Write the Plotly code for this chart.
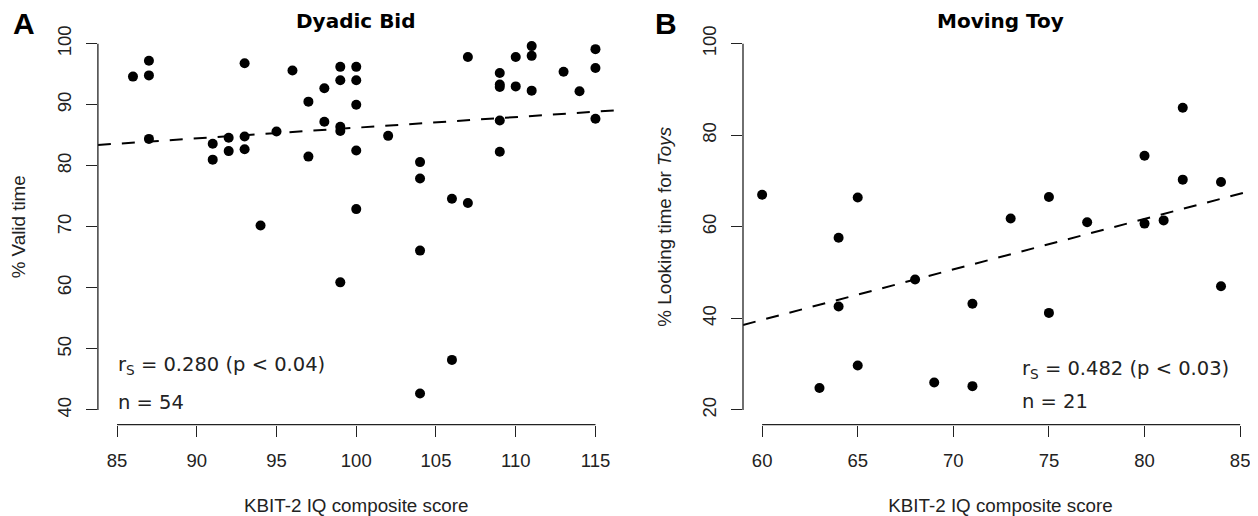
import plotly.graph_objects as go

# ---- Panel A: Dyadic Bid ----
a_iq = [86, 87, 87, 87, 91, 91, 92, 92, 93, 93, 93, 94, 95, 96, 97, 97, 98, 98,
        99, 99, 99, 99, 99, 100, 100, 100, 100, 100, 102, 104, 104, 104, 104,
        106, 106, 107, 107, 109, 109, 109, 109, 109, 110, 110, 111, 111, 111,
        113, 114, 115, 115, 115]
a_valid = [94.6, 97.2, 94.8, 84.4, 83.6, 81.0, 84.6, 82.4, 96.8, 84.8, 82.7, 70.2,
           85.6, 95.6, 90.5, 81.5, 92.7, 87.2, 96.2, 94.0, 86.4, 85.7, 60.9, 96.2,
           94.0, 90.0, 82.5, 72.9, 84.9, 80.6, 77.9, 66.1, 42.7, 74.6, 48.2, 97.8,
           73.9, 95.2, 93.3, 92.9, 87.4, 82.3, 97.8, 93.0, 99.6, 98.0, 92.3, 95.4,
           92.2, 99.1, 96.0, 87.7]
a_fit = (68.76, 0.1747)  # intercept, slope
a_xticks = [85, 90, 95, 100, 105, 110, 115]
a_yticks = [40, 50, 60, 70, 80, 90, 100]

# ---- Panel B: Moving Toy ----
b_iq = [60, 63, 64, 64, 65, 65, 68, 69, 71, 71, 73, 75, 75, 77, 80, 80, 81, 82, 82, 84, 84]
b_look = [67.0, 24.8, 57.6, 42.6, 66.4, 29.7, 48.5, 26.0, 43.2, 25.2, 61.8, 66.5,
          41.2, 61.0, 75.5, 60.7, 61.4, 86.0, 70.3, 69.8, 47.0]
b_fit = (-26.45, 1.102)
b_xticks = [60, 65, 70, 75, 80, 85]
b_yticks = [20, 40, 60, 80, 100]

# page has an 8px body margin: figure spans 8..1258 x 8..516 of the window
OFF = 8
W, H = 1258 - OFF, 516 - OFF
AX = "Liberation Sans"
VD = "DejaVu Sans"


def fx(px):
    return (px - OFF) / W


def fy(py):
    return 1 - (py - OFF) / H


a_xr = [83.8, 116.2]
a_yr = [37.6, 102.4]
b_xr = [59.0, 59.0 + (1258 - 743) / 19.12]
b_yr = [16.8, 103.2]

ydom = [fy(424.6), fy(29.0)]
a_xdom = [fx(97.9), fx(614.6)]
b_xdom = [fx(743.0), 1.0]

fig = go.Figure()

fig.add_trace(go.Scatter(x=a_iq, y=a_valid, mode="markers", xaxis="x", yaxis="y",
                         marker=dict(color="black", size=10), showlegend=False))
fig.add_trace(go.Scatter(x=a_xr, y=[a_fit[0] + a_fit[1] * v for v in a_xr], mode="lines",
                         xaxis="x", yaxis="y",
                         line=dict(color="black", width=2, dash="13px,11px"), showlegend=False))
fig.add_trace(go.Scatter(x=b_iq, y=b_look, mode="markers", xaxis="x2", yaxis="y2",
                         marker=dict(color="black", size=10), showlegend=False))
fig.add_trace(go.Scatter(x=b_xr, y=[b_fit[0] + b_fit[1] * v for v in b_xr], mode="lines",
                         xaxis="x2", yaxis="y2",
                         line=dict(color="black", width=2, dash="13px,11px"), showlegend=False))

TF = 18.5
TT = 18.8
common_x = dict(showgrid=False, zeroline=False, showline=False, ticks="outside", ticklen=11,
                tickwidth=1, tickcolor="#222", tickfont=dict(family=AX, size=TF, color="#222"),
                ticklabelstandoff=8, automargin=False,
                title=dict(text="KBIT-2 IQ composite score", font=dict(family=AX, size=TT, color="#222"),
                           standoff=33))
common_y = dict(showgrid=False, zeroline=False, showline=False, ticks="outside", ticklen=11,
                tickwidth=1, tickcolor="#222", tickangle=-90, automargin=False,
                tickfont=dict(family=AX, size=TF, color="#222"), ticklabelstandoff=8)

fig.update_layout(
    width=W, height=H, margin=dict(l=0, r=0, t=0, b=0),
    plot_bgcolor="white", paper_bgcolor="white",
    xaxis=dict(domain=a_xdom, range=a_xr, tickvals=a_xticks, anchor="y", **common_x),
    yaxis=dict(domain=ydom, range=a_yr, tickvals=a_yticks, anchor="x",
               title=dict(text="% Valid time", font=dict(family=AX, size=TT, color="#222"), standoff=22),
               **common_y),
    xaxis2=dict(domain=b_xdom, range=b_xr, tickvals=b_xticks, anchor="y2", **common_x),
    yaxis2=dict(domain=ydom, range=b_yr, tickvals=b_yticks, anchor="x2",
                title=dict(text="% Looking time for <i>Toys</i>", font=dict(family=AX, size=TT, color="#222"),
                           standoff=22),
                **common_y),
)

shapes = []
for xt, yt, xa, ya in [(a_xticks, a_yticks, "x", "y"), (b_xticks, b_yticks, "x2", "y2")]:
    shapes.append(dict(type="line", xref=xa, yref=ya + " domain", x0=xt[0], x1=xt[-1], y0=0, y1=0,
                       line=dict(color="#222", width=1.3)))
    shapes.append(dict(type="line", xref=xa + " domain", yref=ya, x0=0, x1=0, y0=yt[0], y1=yt[-1],
                       line=dict(color="#222", width=1.3)))
fig.update_layout(shapes=shapes)

AF = 19.5
ann = [
    dict(text="<b>A</b>", x=fx(11), y=fy(24), xref="paper", yref="paper", xanchor="left",
         yanchor="middle", showarrow=False, font=dict(family=AX, size=30, color="black")),
    dict(text="<b>B</b>", x=fx(653), y=fy(24), xref="paper", yref="paper", xanchor="left",
         yanchor="middle", showarrow=False, font=dict(family=AX, size=30, color="black")),
    dict(text="<b>Dyadic Bid</b>", x=(a_xdom[0] + a_xdom[1]) / 2, y=fy(21), xref="paper",
         yref="paper", xanchor="center", yanchor="middle", showarrow=False,
         font=dict(family=VD, size=20, color="black")),
    dict(text="<b>Moving Toy</b>", x=(b_xdom[0] + b_xdom[1]) / 2, y=fy(21), xref="paper",
         yref="paper", xanchor="center", yanchor="middle", showarrow=False,
         font=dict(family=VD, size=20, color="black")),
    dict(text="r<sub>S</sub> = 0.280 (p &lt; 0.04)", x=84.95, y=fy(365), xref="x", yref="paper",
         xanchor="left", yanchor="middle", showarrow=False, font=dict(family=VD, size=AF, color="#222")),
    dict(text="n = 54", x=84.95, y=fy(402), xref="x", yref="paper",
         xanchor="left", yanchor="middle", showarrow=False, font=dict(family=VD, size=AF, color="#222")),
    dict(text="r<sub>S</sub> = 0.482 (p &lt; 0.03)", x=73.5, y=fy(369), xref="x2", yref="paper",
         xanchor="left", yanchor="middle", showarrow=False, font=dict(family=VD, size=AF, color="#222")),
    dict(text="n = 21", x=73.5, y=fy(401), xref="x2", yref="paper",
         xanchor="left", yanchor="middle", showarrow=False, font=dict(family=VD, size=AF, color="#222")),
]
fig.update_layout(annotations=ann)

fig.write_html("out.html")
